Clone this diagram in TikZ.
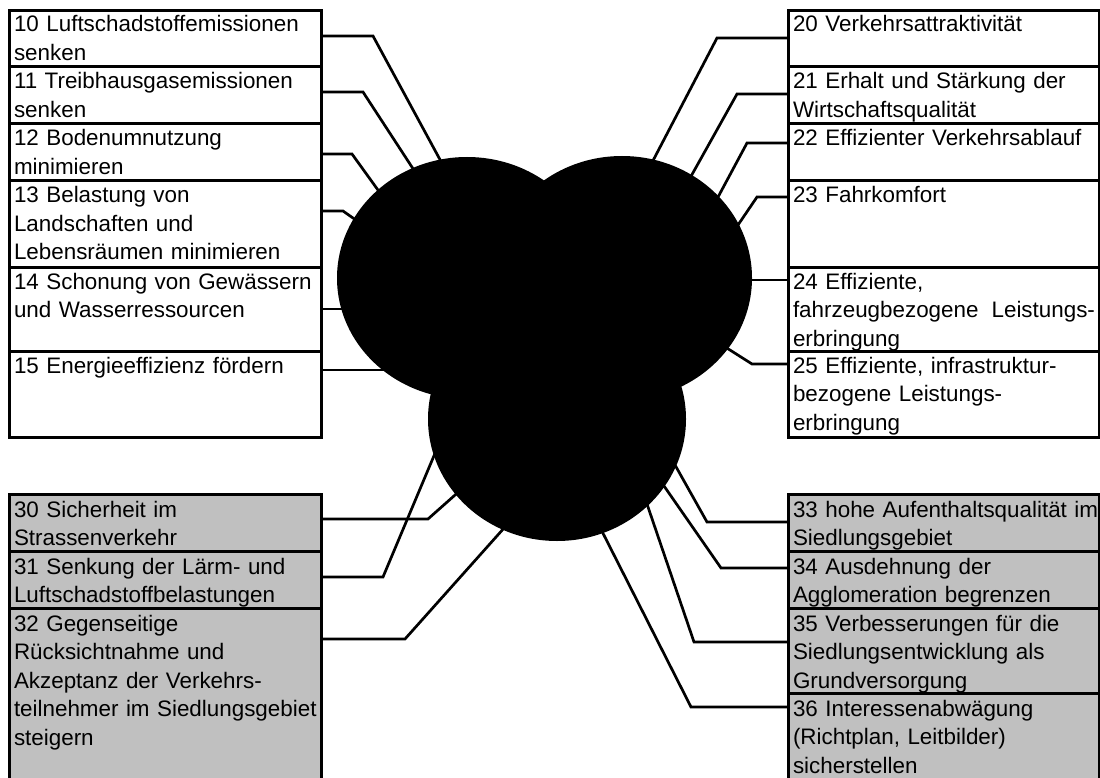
\documentclass[tikz,border=0pt]{standalone}
\usepackage{fontspec}
\setmainfont{Liberation Sans}
\usetikzlibrary{shapes.geometric}
\definecolor{boxgray}{RGB}{192,192,192}
\newcommand\goalbox[8]{%
  \node[box, fill=#5, anchor=north west, minimum width=#7pt, minimum height=#4pt] (#1) at (#2,#3) {};
  \node[lbl] (#1t) at ([xshift=5pt,yshift=-#8pt]#1.north west) {#6};
}
\begin{document}
\begin{tikzpicture}[x=1pt,y=-1pt,
  box/.style={draw=black, line width=3pt, inner sep=0pt, outer sep=0pt},
  lbl/.style={anchor=base west, inner sep=0pt, outer sep=0pt, text width=312pt, align=left,
              font=\fontsize{22.4}{28.5}\selectfont},
  conn/.style={line width=2.7pt, line join=miter},
  lobe/.style={ellipse, fill=black, draw=none, inner sep=0pt, outer sep=0pt}]
\useasboundingbox (0,0) rectangle (1100,778);
\clip (0,0) rectangle (1100,778);
% left top boxes
\goalbox{b10}{9}{11}{56}{white}{10 Luftschadstoffemissionen\\senken}{312}{21}
\goalbox{b11}{9}{67}{57}{white}{11 Treibhausgasemissionen\\senken}{312}{22}
\goalbox{b12}{9}{124}{57}{white}{12 Bodenumnutzung\\minimieren}{312}{22}
\goalbox{b13}{9}{181}{86}{white}{13 Belastung von\\Landschaften und\\Lebensräumen minimieren}{312}{22}
\goalbox{b14}{9}{267}{84}{white}{14 Schonung von Gewässern\\und Wasserressourcen}{312}{22}
\goalbox{b15}{9}{351}{86}{white}{15 Energieeffizienz fördern}{312}{22}
% right top boxes
\goalbox{b20}{788}{11}{56}{white}{20 Verkehrsattraktivität}{311}{21}
\goalbox{b21}{788}{67}{57}{white}{21 Erhalt und Stärkung der\\Wirtschaftsqualität}{311}{22}
\goalbox{b22}{788}{124}{57}{white}{22 Effizienter Verkehrsablauf}{311}{22}
\goalbox{b23}{788}{181}{86}{white}{23 Fahrkomfort}{311}{22}
\goalbox{b24}{788}{267}{84}{white}{24 Effiziente,\\\makebox[302pt][l]{fahrzeugbezogene\hfill Leistungs-}\\erbringung}{311}{22}
\goalbox{b25}{788}{351}{86}{white}{25 Effiziente, infrastruktur-\\bezogene Leistungs-\\erbringung}{311}{22}
% left bottom boxes
\goalbox{b30}{9}{494}{57}{boxgray}{30 Sicherheit im\\Strassenverkehr}{312}{23}
\goalbox{b31}{9}{551}{57}{boxgray}{31 Senkung der Lärm- und\\Luftschadstoffbelastungen}{312}{23}
\goalbox{b32}{9}{608}{192}{boxgray}{32 Gegenseitige\\Rücksichtnahme und\\Akzeptanz der Verkehrs-\\teilnehmer im Siedlungsgebiet\\steigern}{312}{23}
% right bottom boxes
\goalbox{b33}{788}{494}{57}{boxgray}{33 hohe Aufenthaltsqualität im\\Siedlungsgebiet}{311}{23}
\goalbox{b34}{788}{551}{57}{boxgray}{34 Ausdehnung der\\Agglomeration begrenzen}{311}{23}
\goalbox{b35}{788}{608}{85}{boxgray}{35 Verbesserungen für die\\Siedlungsentwicklung als\\Grundversorgung}{311}{23}
\goalbox{b36}{788}{693}{107}{boxgray}{36 Interessenabwägung\\(Richtplan, Leitbilder)\\sicherstellen}{311}{23}
% inner end points of the connectors (hidden under the blob)
\coordinate (c10) at (470,215);
\coordinate (c11) at (453,230);
\coordinate (c12) at (414,240);
\coordinate (c13) at (400,251);
\coordinate (c14) at (380,309);
\coordinate (c15) at (400,370);
\coordinate (c20) at (622,220);
\coordinate (c21) at (661,230);
\coordinate (c22) at (695,240);
\coordinate (c23) at (721,250);
\coordinate (c24) at (720,280);
\coordinate (c25) at (700,331);
\coordinate (c30) at (490,464);
\coordinate (c31) at (449,420);
\coordinate (c32) at (538,490);
\coordinate (c33) at (661,440);
\coordinate (c34) at (639,450);
\coordinate (c35) at (632,460);
\coordinate (c36) at (576,480);
% connectors
\draw[conn] (b10.east |- 0,36) -- (373,36) -- (c10);
\draw[conn] (b11.east |- 0,92) -- (363,92) -- (c11);
\draw[conn] (b12.east |- 0,154) -- (352,154) -- (c12);
\draw[conn] (b13.east |- 0,211) -- (343,211) -- (c13);
\draw[conn] (b14.east |- 0,309) -- (c14);
\draw[conn] (b15.east |- 0,370) -- (c15);
\draw[conn] (b20.west |- 0,38) -- (717,38) -- (c20);
\draw[conn] (b21.west |- 0,94) -- (737,94) -- (c21);
\draw[conn] (b22.west |- 0,143) -- (747,143) -- (c22);
\draw[conn] (b23.west |- 0,197) -- (757,197) -- (c23);
\draw[conn] (b24.west |- 0,280) -- (c24);
\draw[conn] (b25.west |- 0,364) -- (752,364) -- (c25);
\draw[conn] (b30.east |- 0,519) -- (428,519) -- (c30);
\draw[conn] (b31.east |- 0,577) -- (383,577) -- (c31);
\draw[conn] (b32.east |- 0,639) -- (405,639) -- (c32);
\draw[conn] (b33.west |- 0,522) -- (707,522) -- (c33);
\draw[conn] (b34.west |- 0,568) -- (721,568) -- (c34);
\draw[conn] (b35.west |- 0,642) -- (694,642) -- (c35);
\draw[conn] (b36.west |- 0,707) -- (691,707) -- (c36);
% central blob of three lobes
\node[lobe, minimum width=260pt, minimum height=242pt] (lobeL) at (467,278) {};
\node[lobe, minimum width=260pt, minimum height=244pt] (lobeR) at (622,278) {};
\node[lobe, minimum width=258pt, minimum height=244pt] (lobeB) at (557,419) {};
\end{tikzpicture}
\end{document}
